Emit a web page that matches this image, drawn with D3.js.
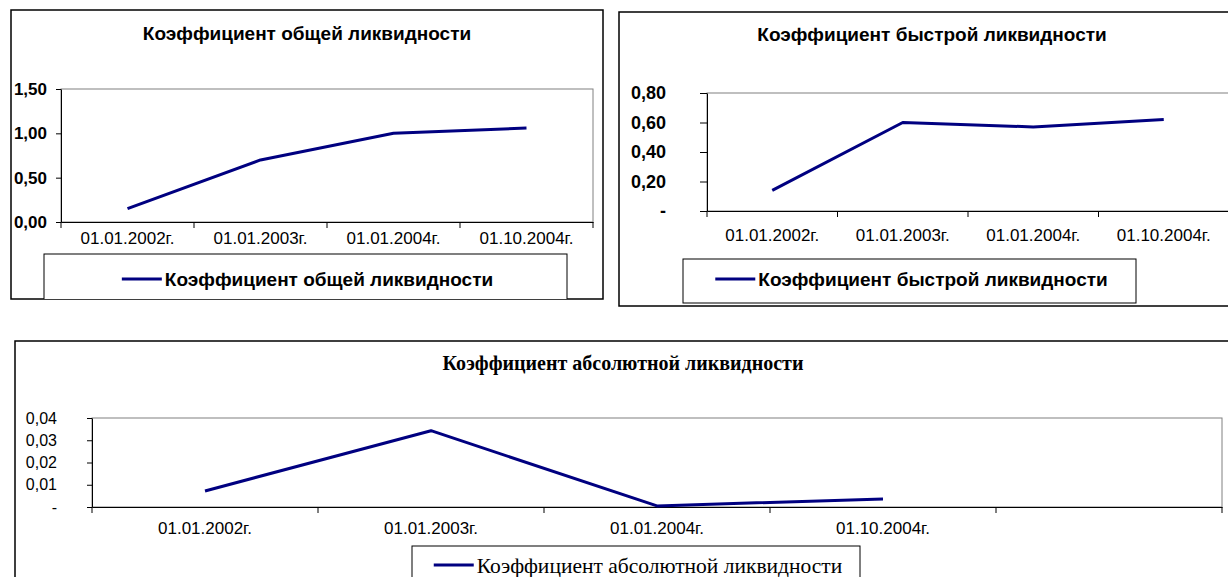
<!DOCTYPE html>
<html>
<head>
<meta charset="utf-8">
<script src="https://cdn.jsdelivr.net/npm/d3@7/dist/d3.min.js"></script>
<style>
body { margin: 0; background: #fff; }
svg { display: block; }
.frame { fill: #fff; stroke: #000; stroke-width: 1.5; }
.plot-bg { fill: #fff; stroke: #808080; stroke-width: 1; }
.axis path, .axis line { stroke: #000; }
.legend-box { fill: #fff; stroke: #000; stroke-width: 1; }
.series { fill: none; stroke: #000080; stroke-width: 3; stroke-linejoin: round; }
</style>
</head>
<body>
<svg id="page" width="1228" height="577"></svg>
<script>
// data
var dates = ['01.01.2002г.', '01.01.2003г.', '01.01.2004г.', '01.10.2004г.'];
var generalValues = [0.15, 0.70, 1.00, 1.06];
var quickValues = [0.14, 0.60, 0.57, 0.62];
var absoluteValues = [0.0072, 0.0343, 0.0005, 0.0036];
var generalTicks = [0, 0.5, 1, 1.5];
var quickTicks = [0, 0.2, 0.4, 0.6, 0.8];
var absoluteTicks = [0, 0.01, 0.02, 0.03, 0.04];

var ru = d3.formatLocale({decimal: ',', thousands: '\u00a0', grouping: [3], currency: ['', '']});
var fmt2 = ru.format('.2f');

var SANS = '"Liberation Sans", Arial, sans-serif';
var SERIF = '"Liberation Serif", "Times New Roman", serif';

function lineChart() {
	var frame = {width: 600, height: 300},
		plot = {left: 50, top: 80, width: 500, height: 130},
		legendBox = {left: 30, top: 240, width: 500, height: 45},
		title = '',
		titleY = 22,
		categories = [],
		values = [],
		ticks = [],
		slots = 4,
		zeroDash = false,
		labelRight = 40,
		xLabelY = 16,
		legendY = 25,
		titleFont = 'bold 19px ' + SANS,
		yFont = 'bold 17px ' + SANS,
		xFont = '17px ' + SANS,
		legendFont = 'bold 19px ' + SANS;

	function chart(selection) {
		selection.each(function() {
			var g = d3.select(this);
			var bottom = plot.top + plot.height;

			var x = d3.scaleBand()
				.domain(d3.range(slots))
				.range([plot.left, plot.left + plot.width]);
			var y = d3.scaleLinear()
				.domain(d3.extent(ticks))
				.range([bottom, plot.top]);

			var clipId = 'clip' + Math.round(Math.random() * 1e6);
			g.append('clipPath').attr('id', clipId)
				.append('rect').attr('width', frame.width).attr('height', frame.height);

			g.append('rect').attr('class', 'frame')
				.attr('width', frame.width).attr('height', frame.height);

			g.append('text')
				.attr('x', frame.width / 2).attr('y', titleY)
				.attr('text-anchor', 'middle').attr('dy', '0.35em')
				.style('font', titleFont)
				.text(title);

			g.append('rect').attr('class', 'plot-bg')
				.attr('x', plot.left).attr('y', plot.top)
				.attr('width', plot.width).attr('height', plot.height);

			// value axis
			var yAxis = d3.axisLeft(y)
				.tickValues(ticks)
				.tickSize(plot.left - labelRight > 40 ? 7 : 5)
				.tickSizeOuter(0)
				.tickFormat(function(d) { return (d === 0 && zeroDash) ? '-' : fmt2(d); });
			yAxis.tickPadding(plot.left - labelRight - yAxis.tickSize());
			var ya = g.append('g').attr('class', 'axis')
				.attr('transform', 'translate(' + plot.left + ',0)')
				.call(yAxis);
			ya.selectAll('text').style('font', yFont).attr('fill', '#000');

			// category axis
			var xAxis = d3.axisBottom(x)
				.tickSize(0)
				.tickSizeOuter(0)
				.tickFormat(function(i) { return categories[i] || ''; });
			var xa = g.append('g').attr('class', 'axis')
				.attr('transform', 'translate(0,' + bottom + ')')
				.call(xAxis);
			xa.selectAll('text').style('font', xFont).attr('fill', '#000')
				.attr('y', xLabelY).attr('dy', '0.35em');

			var bounds = x.domain().map(x).concat([x.range()[1]]);
			g.append('g').selectAll('line')
				.data(bounds)
				.enter().append('line')
					.attr('x1', function(d) { return d; })
					.attr('x2', function(d) { return d; })
					.attr('y1', bottom)
					.attr('y2', bottom + 6)
					.attr('stroke', '#000');

			var line = d3.line()
				.x(function(d, i) { return x(i) + x.bandwidth() / 2; })
				.y(function(d) { return y(d); });
			g.append('path').datum(values)
				.attr('class', 'series')
				.attr('d', line);

			// legend
			var lg = g.append('g').attr('clip-path', 'url(#' + clipId + ')');
			lg.append('rect').attr('class', 'legend-box')
				.attr('x', legendBox.left).attr('y', legendBox.top)
				.attr('width', legendBox.width).attr('height', legendBox.height);
			var lt = lg.append('text')
				.attr('y', legendBox.top + legendY).attr('dy', '0.35em')
				.style('font', legendFont)
				.text(title);
			var tw = lt.node().getComputedTextLength();
			var total = 40 + 3 + tw;
			var start = legendBox.left + legendBox.width / 2 - total / 2 + 2;
			lg.append('line')
				.attr('x1', start).attr('x2', start + 40)
				.attr('y1', legendBox.top + legendY).attr('y2', legendBox.top + legendY)
				.attr('stroke', '#000080').attr('stroke-width', 3);
			lt.attr('x', start + 43);
		});
	}

	chart.frame = function(v) { if (!arguments.length) return frame; frame = v; return chart; };
	chart.plot = function(v) { if (!arguments.length) return plot; plot = v; return chart; };
	chart.legendBox = function(v) { if (!arguments.length) return legendBox; legendBox = v; return chart; };
	chart.title = function(v) { if (!arguments.length) return title; title = v; return chart; };
	chart.titleY = function(v) { if (!arguments.length) return titleY; titleY = v; return chart; };
	chart.categories = function(v) { if (!arguments.length) return categories; categories = v; return chart; };
	chart.values = function(v) { if (!arguments.length) return values; values = v; return chart; };
	chart.ticks = function(v) { if (!arguments.length) return ticks; ticks = v; return chart; };
	chart.slots = function(v) { if (!arguments.length) return slots; slots = v; return chart; };
	chart.zeroDash = function(v) { if (!arguments.length) return zeroDash; zeroDash = v; return chart; };
	chart.labelRight = function(v) { if (!arguments.length) return labelRight; labelRight = v; return chart; };
	chart.xLabelY = function(v) { if (!arguments.length) return xLabelY; xLabelY = v; return chart; };
	chart.legendY = function(v) { if (!arguments.length) return legendY; legendY = v; return chart; };
	chart.titleFont = function(v) { if (!arguments.length) return titleFont; titleFont = v; return chart; };
	chart.yFont = function(v) { if (!arguments.length) return yFont; yFont = v; return chart; };
	chart.xFont = function(v) { if (!arguments.length) return xFont; xFont = v; return chart; };
	chart.legendFont = function(v) { if (!arguments.length) return legendFont; legendFont = v; return chart; };

	return chart;
}

var svg = d3.select('#page');

var general = lineChart()
	.frame({width: 592, height: 289})
	.plot({left: 50, top: 79, width: 532, height: 133})
	.legendBox({left: 33, top: 244, width: 523, height: 50})
	.title('Коэффициент общей ликвидности')
	.titleY(23)
	.categories(dates)
	.values(generalValues)
	.ticks(generalTicks)
	.labelRight(36)
	.xLabelY(16)
	.legendY(25);
svg.append('g').attr('transform', 'translate(11,10)').call(general);

var quick = lineChart()
	.frame({width: 626, height: 294})
	.plot({left: 88, top: 81, width: 522, height: 118})
	.legendBox({left: 64, top: 247, width: 453, height: 44})
	.title('Коэффициент быстрой ликвидности')
	.titleY(22)
	.categories(dates)
	.values(quickValues)
	.ticks(quickTicks)
	.zeroDash(true)
	.labelRight(47)
	.xLabelY(24)
	.yFont('bold 18px ' + SANS)
	.legendY(20);
svg.append('g').attr('transform', 'translate(619,12)').call(quick);

var absolute = lineChart()
	.frame({width: 1216, height: 260})
	.plot({left: 77, top: 77, width: 1130, height: 89})
	.legendBox({left: 397, top: 205, width: 448, height: 60})
	.title('Коэффициент абсолютной ликвидности')
	.titleY(22)
	.categories(dates)
	.values(absoluteValues)
	.ticks(absoluteTicks)
	.slots(5)
	.zeroDash(true)
	.labelRight(42)
	.xLabelY(21)
	.legendY(19)
	.titleFont('bold 20px ' + SERIF)
	.yFont('16px ' + SANS)
	.legendFont('21.5px ' + SERIF);
svg.append('g').attr('transform', 'translate(15,341)').call(absolute);
</script>
</body>
</html>
